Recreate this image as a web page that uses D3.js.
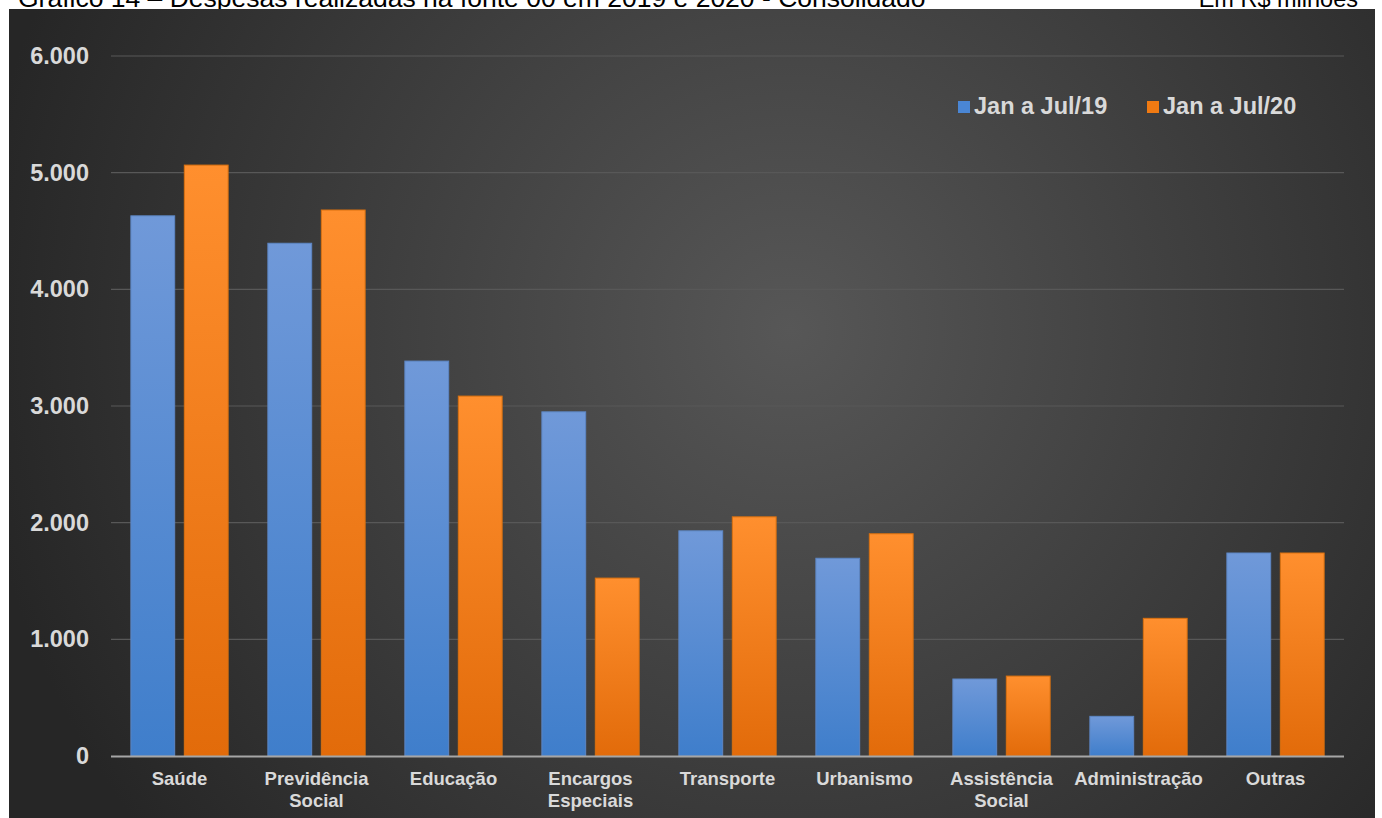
<!DOCTYPE html>
<html>
<head>
<meta charset="utf-8">
<script src="https://cdn.jsdelivr.net/npm/d3@7"></script>
<style>
  html, body { margin: 0; padding: 0; background: #ffffff; }
  svg { display: block; }
  text { font-family: "Liberation Sans", Arial, sans-serif; }
</style>
</head>
<body>
<svg id="chart" width="1382" height="818"></svg>
<script>
// Despesas por função (R$ milhões), janeiro a julho
const categories = [
  ["Saúde"], ["Previdência", "Social"], ["Educação"], ["Encargos", "Especiais"],
  ["Transporte"], ["Urbanismo"], ["Assistência", "Social"], ["Administração"], ["Outras"]
];
const seriesNames = ["Jan a Jul/19", "Jan a Jul/20"];
const values2019 = [4630, 4395, 3385, 2950, 1930, 1695, 660, 340, 1740];
const values2020 = [5065, 4680, 3085, 1525, 2050, 1905, 685, 1180, 1740];
const yTicks = [0, 1000, 2000, 3000, 4000, 5000, 6000];
const titleText = "Gráfico 14 – Despesas realizadas na fonte 00 em 2019 e 2020 - Consolidado";
const unitText = "Em R$ milhões";

const svg = d3.select("#chart");
const W = 1382, H = 818;

// Panel gradients
const defs = svg.append("defs");
const bg = defs.append("radialGradient").attr("id", "bg")
  .attr("gradientUnits", "userSpaceOnUse")
  .attr("cx", 790).attr("cy", 330).attr("r", 820);
bg.append("stop").attr("offset", "0%").attr("stop-color", "#575757");
bg.append("stop").attr("offset", "100%").attr("stop-color", "#262626");

function barGrad(id, top, bottom) {
  const g = defs.append("linearGradient").attr("id", id)
    .attr("x1", 0).attr("y1", 0).attr("x2", 0).attr("y2", 1);
  g.append("stop").attr("offset", "0%").attr("stop-color", top);
  g.append("stop").attr("offset", "100%").attr("stop-color", bottom);
}
barGrad("g19", "#7099d9", "#3f7ecb");
barGrad("g20", "#ff8f2e", "#e26b0a");
const fills = ["url(#g19)", "url(#g20)"];
const strokes = ["#5d86c4", "#d9700f"];
const legendColors = ["#4a86d4", "#f07a12"];

// Title strip
svg.append("text").attr("x", 18).attr("y", 7)
  .attr("font-size", 26.5).attr("fill", "#000").text(titleText);
svg.append("text").attr("x", 1358).attr("y", 7).attr("text-anchor", "end")
  .attr("font-size", 23.5).attr("fill", "#000").text(unitText);

// Chart panel
svg.append("rect").attr("x", 9).attr("y", 9).attr("width", 1366).attr("height", H - 9)
  .attr("fill", "url(#bg)");

const x0 = d3.scaleBand().domain(d3.range(categories.length)).range([111, 1344]).paddingInner(0.29).paddingOuter(0.145);
const x1 = d3.scaleBand().domain([0, 1]).range([0, x0.bandwidth()]).paddingInner(0.18);
const y = d3.scaleLinear().domain([0, 6000]).range([756, 56]);

// Gridlines
svg.append("g").selectAll("line").data(yTicks.filter(d => d > 0)).join("line")
  .attr("x1", 111).attr("x2", 1344)
  .attr("y1", d => y(d)).attr("y2", d => y(d))
  .attr("stroke", "#585858").attr("stroke-width", 1.2);

// Y axis labels
const fmt = d3.format(",.0f");
const yAxis = d3.axisLeft(y).tickValues(yTicks).tickSize(0).tickPadding(0)
  .tickFormat(d => fmt(d).replace(/,/g, "."));
const gy = svg.append("g").attr("transform", "translate(89,0)").call(yAxis);
gy.select(".domain").remove();
gy.selectAll("text").attr("font-size", 23.5).attr("font-weight", "bold")
  .attr("fill", "#d9d9d9").attr("font-family", "Liberation Sans, Arial, sans-serif");

// Bars
const series = [values2019, values2020];
series.forEach((vals, s) => {
  svg.append("g").selectAll("rect").data(vals).join("rect")
    .attr("x", (d, i) => x0(i) + x1(s))
    .attr("y", d => y(d))
    .attr("width", x1.bandwidth())
    .attr("height", d => y(0) - y(d))
    .attr("fill", fills[s])
    .attr("stroke", strokes[s]).attr("stroke-width", 1);
});

// Baseline
svg.append("line").attr("x1", 111).attr("x2", 1344)
  .attr("y1", y(0) + 0.5).attr("y2", y(0) + 0.5)
  .attr("stroke", "#a6a6a6").attr("stroke-width", 2);

// X axis labels
const xAxis = d3.axisBottom(x0).tickSize(0).tickFormat(() => "");
const gx = svg.append("g").attr("transform", `translate(0,${y(0)})`).call(xAxis);
gx.select(".domain").remove();
gx.selectAll(".tick").each(function(i) {
  const t = d3.select(this).append("text")
    .attr("text-anchor", "middle").attr("font-size", 18.5).attr("font-weight", "bold")
    .attr("fill", "#d9d9d9").attr("font-family", "Liberation Sans, Arial, sans-serif");
  categories[i].forEach((line, k) => {
    t.append("tspan").attr("x", 0).attr("y", 29 + k * 22).text(line);
  });
});

// Legend
const legendX = [958, 1147];
seriesNames.forEach((name, s) => {
  svg.append("rect").attr("x", legendX[s]).attr("y", 101).attr("width", 12).attr("height", 12)
    .attr("fill", legendColors[s]);
  svg.append("text").attr("x", legendX[s] + 16).attr("y", 114)
    .attr("font-size", 23.5).attr("font-weight", "bold").attr("fill", "#d9d9d9")
    .text(name);
});
</script>
</body>
</html>
